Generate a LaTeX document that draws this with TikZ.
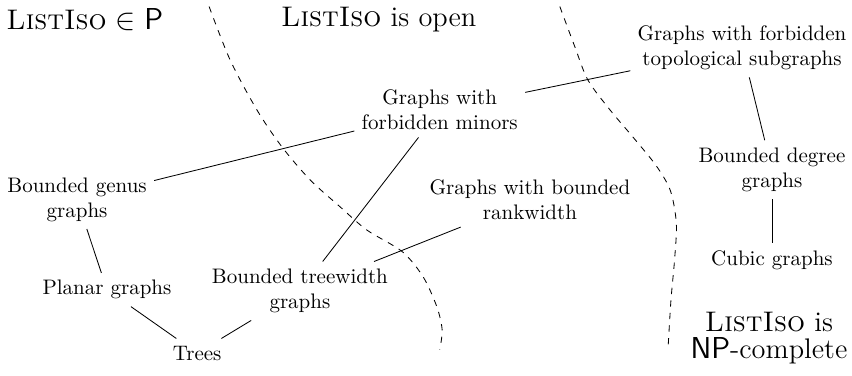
\documentclass[tikz,border=0pt]{standalone}
\usepackage{amsmath, amssymb}
\usepackage{tikz}
\usetikzlibrary{calc}

\newcommand{\listiso}{\textsc{ListIso}}
\tikzset{
  cls/.style={align=center},
  region/.style={font=\fontsize{13.5}{13}\selectfont, align=center, inner sep=0pt},
  border/.style={dashed}
}

\begin{document}
\begin{tikzpicture}
    \useasboundingbox (0,0) rectangle (14.26,6.29);

    % regions
    \node[region] (inP) at (1.42,5.96) {\listiso{} $\in \mathsf{P}$};
    \node[region] (open) at (6.34,5.96) {\listiso{} is open};
    \node[region] (npc) at (12.87,0.63) {\listiso{} is\\$\mathsf{NP}$-complete};

    % dashed borders between the regions
    \draw[border] plot[smooth] coordinates {(3.50,6.18) (3.85,5.29) (4.30,4.45)
      (4.72,3.83) (5.19,3.28) (5.69,2.83) (6.14,2.44) (6.73,2.08) (7.08,1.66)
      (7.31,1.16) (7.40,0.77) (7.36,0.44)};
    \draw[border] plot[smooth] coordinates {(9.37,6.18) (9.62,5.51) (9.84,4.95)
      (10.21,4.45) (10.59,4.00) (10.98,3.52) (11.22,3.10) (11.32,2.55)
      (11.29,1.94) (11.23,1.27) (11.18,0.44)};

    % graph classes
    \node[cls] (topo) at (12.42,5.49) {Graphs with forbidden\\topological subgraphs};
    \node[cls] (minors) at (7.36,4.45) {Graphs with\\forbidden minors};
    \node[cls] (genus) at (1.29,2.95) {Bounded genus\\graphs};
    \node[cls] (rank) at (8.87,2.95) {Graphs with bounded\\rankwidth};
    \node[cls] (degree) at (12.92,3.45) {Bounded degree\\graphs};
    \node[cls] (cubic) at (12.92,1.94) {Cubic graphs};
    \node[cls] (planar) at (1.79,1.44) {Planar graphs};
    \node[cls] (treew) at (5.02,1.42) {Bounded treewidth\\graphs};
    \node[cls] (trees) at (3.30,0.38) {Trees};

    % inclusions
    \draw (minors) -- (topo);
    \draw (minors) -- (genus);
    \draw (minors) -- (treew);
    \draw (topo) -- (degree);
    \draw (degree) -- (cubic);
    \draw (rank) -- (treew);
    \draw (genus) -- (planar);
    \draw (planar) -- (trees);
    \draw (treew) -- (trees);
  \end{tikzpicture}
\end{document}
